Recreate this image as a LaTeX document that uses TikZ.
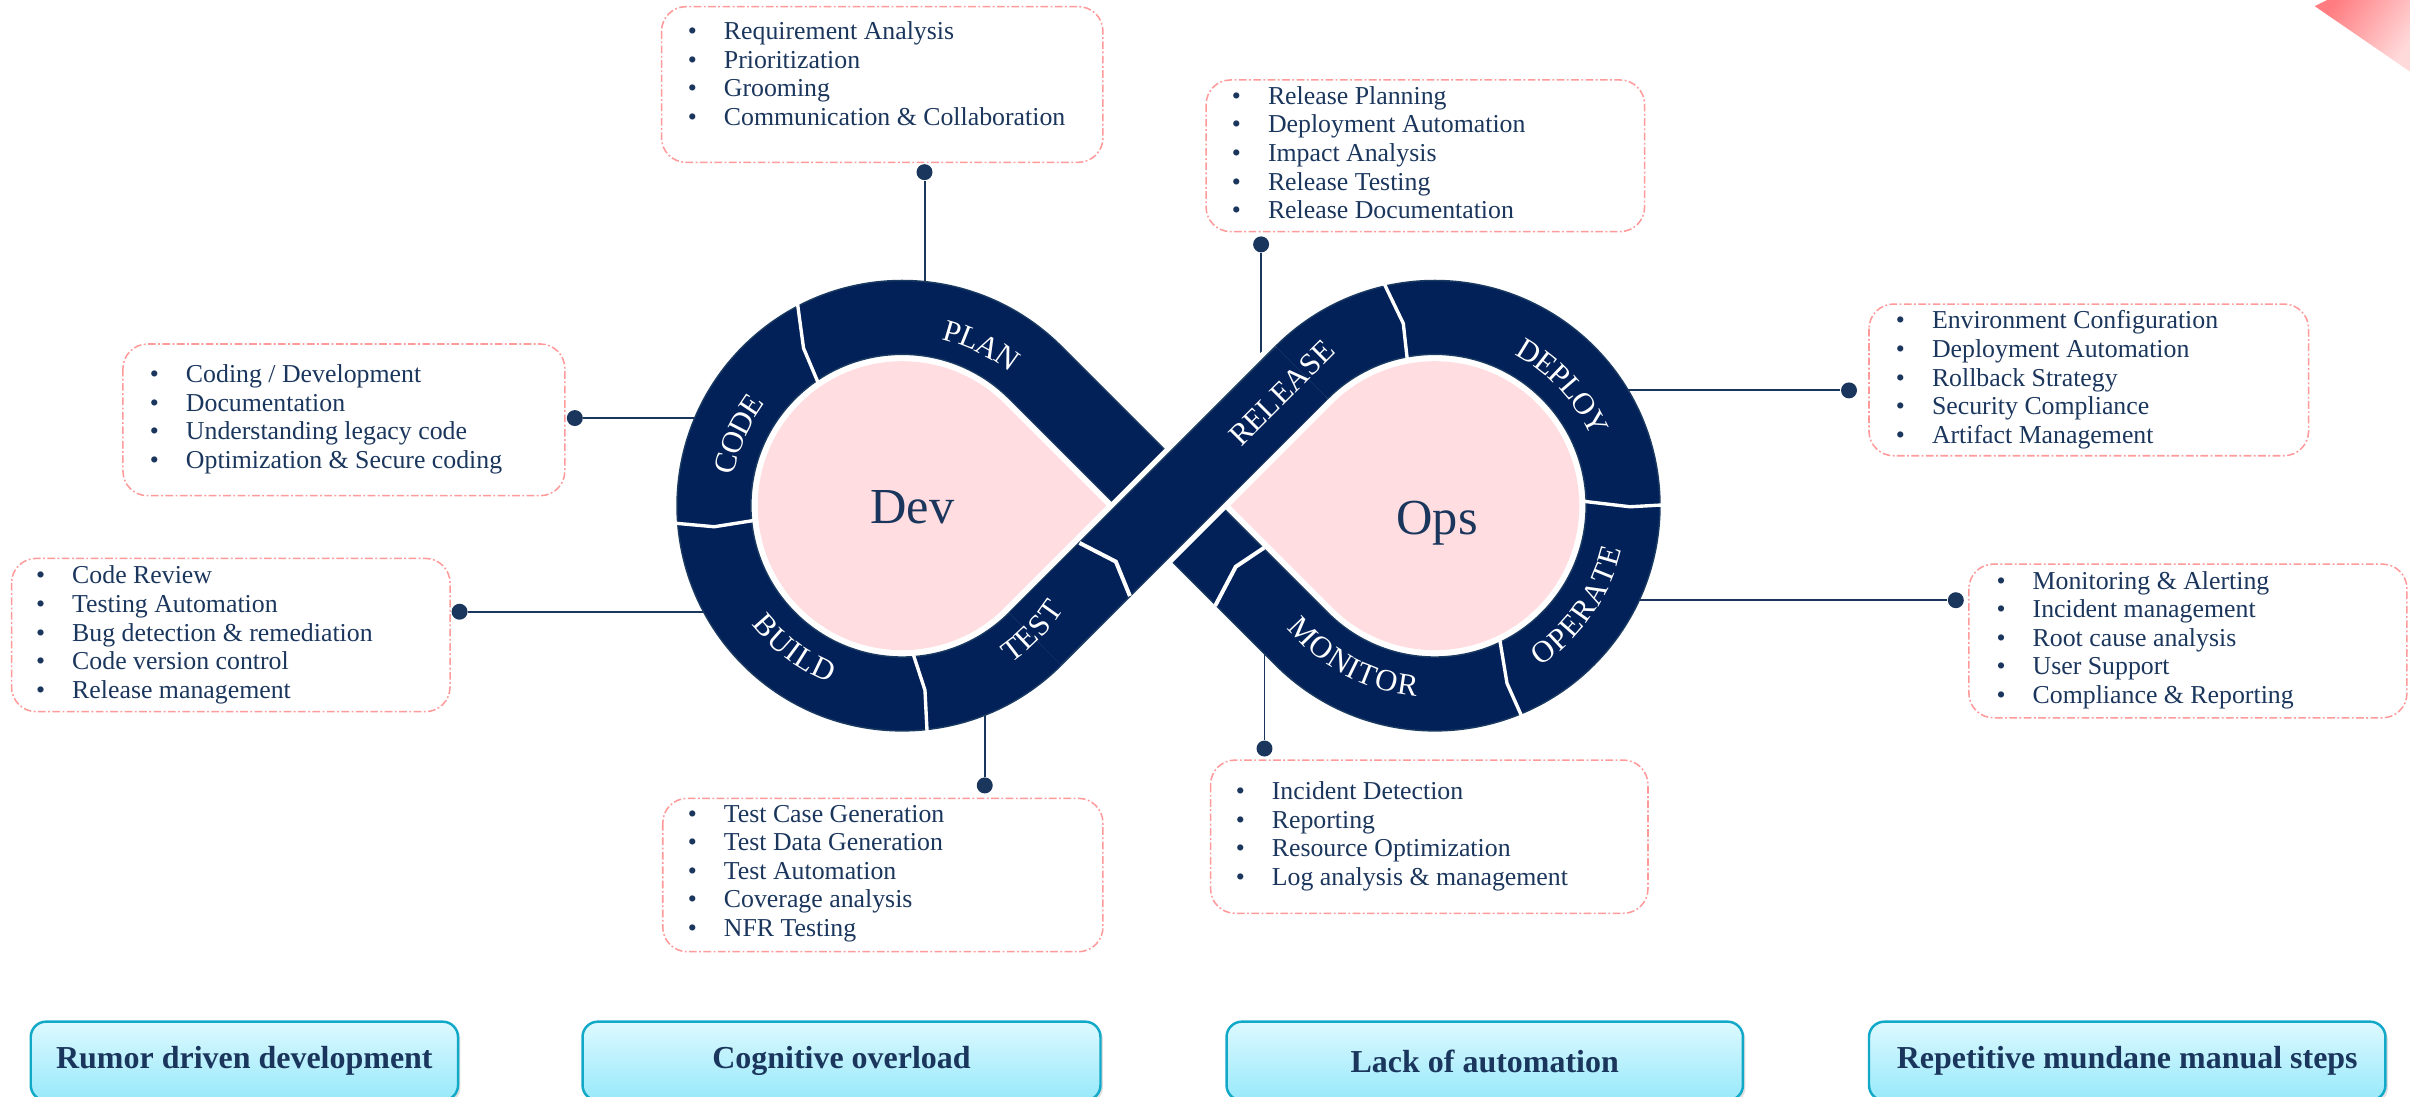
\documentclass[tikz,border=0pt]{standalone}
\usepackage{fontspec}
\setmainfont{Liberation Serif}
\usetikzlibrary{decorations.text,calc,shadows}
\definecolor{navy}{HTML}{022158}
\definecolor{navyline}{HTML}{1A3A62}
\definecolor{txt}{HTML}{1B365D}
\definecolor{pinkfill}{HTML}{FFDDE0}
\definecolor{dashpink}{HTML}{FF9A9A}
\definecolor{cyantop}{HTML}{DDF9FF}
\definecolor{cyanbot}{HTML}{97E9FA}
\definecolor{cyanline}{HTML}{12A9C9}
\definecolor{cornerA}{HTML}{FF7C80}
\definecolor{cornerB}{HTML}{FFDADB}
\newcommand{\bl}[1]{\makebox[11.75pt][l]{\textbullet}#1}
\newcommand{\bandfont}{\fontsize{10}{12}\selectfont\color{white}}
\tikzset{
  listbox/.style={draw=dashpink, dash pattern=on 2.5pt off 0.8pt on 0.6pt off 0.8pt, line width=0.5pt, rounded corners=8pt},
  listtext/.style={anchor=north west, inner sep=0pt, outer sep=0pt, align=left, text=txt, font=\fontsize{8.4}{9.3}\selectfont},
  conn/.style={draw=txt, line width=0.65pt},
  dotmark/.style={circle, fill=txt, inner sep=0pt, minimum size=5.2pt},
  sepline/.style={draw=white, line width=1.1pt, line join=miter, shorten <=-1.5pt, shorten >=-1.5pt},
  bandlbl/.style={decorate, decoration={text along path, text align=center, raise=-3.4pt, text={|\bandfont|#1}}},
  bottombox/.style={draw=cyanline, line width=0.8pt, top color=cyantop, bottom color=cyanbot, rounded corners=5pt,
    minimum height=25.65pt, text=txt, font=\fontsize{10.4}{12}\selectfont\bfseries,
    drop shadow={opacity=0.25, shadow xshift=0.8pt, shadow yshift=-0.8pt}},
  bigword/.style={anchor=base, text=txt, font=\fontsize{16.4}{18}\selectfont, inner sep=0pt}
}
\begin{document}
\begin{tikzpicture}[x=0.5pt,y=0.5pt]
\useasboundingbox (0,0) rectangle (1568,-713.7);
\clip (0,0) rectangle (1568,-713.7);

% corner decoration
\shade[top color=cornerA, bottom color=cornerB, shading angle=55] (1506,-4) -- (1514,0) -- (1568,0) -- (1568,-46.6) -- cycle;

% centres
\coordinate (C1) at (587,-329);
\coordinate (C2) at (933.5,-329);

% connector ends on the band and dots
\node[dotmark] (dplan) at (601.5,-112) {};
\node[dotmark] (drel) at (820.5,-159) {};
\node[dotmark] (dcode) at (374,-272) {};
\node[dotmark] (dbuild) at (299,-398) {};
\node[dotmark] (dtest) at (640.7,-511) {};
\node[dotmark] (dmon) at (822.7,-487) {};
\node[dotmark] (ddep) at (1203,-254) {};
\node[dotmark] (dop) at (1272.5,-390.5) {};
\coordinate (eplan) at (601.5,-186);
\coordinate (erel) at (820.5,-237);
\coordinate (ecode) at (455,-272);
\coordinate (ebuild) at (461,-398);
\coordinate (etest) at (640.7,-462);
\coordinate (emon) at (822.7,-422);
\coordinate (edep) at (1057,-254);
\coordinate (eop) at (1064,-390.5);
\draw[conn] (eplan) -- (dplan);
\draw[conn] (erel) -- (drel);
\draw[conn] (ecode) -- (dcode);
\draw[conn] (ebuild) -- (dbuild);
\draw[conn] (etest) -- (dtest);
\draw[conn] (emon) -- (dmon);
\draw[conn] (edep) -- (ddep);
\draw[conn] (eop) -- (dop);

% infinity band
\draw[navyline, line width=24.5pt, line join=round] ($(C1)+(45:122.5)$) arc[start angle=45, end angle=315, radius=122.5]
   -- ($(C2)+(135:122.5)$) arc[start angle=135, end angle=-135, radius=122.5] -- cycle;
\draw[navy, line width=23.5pt, line join=round] ($(C1)+(45:122.5)$) arc[start angle=45, end angle=315, radius=122.5]
   -- ($(C2)+(135:122.5)$) arc[start angle=135, end angle=-135, radius=122.5] -- cycle;
% over band (TEST -> RELEASE)
\draw[white, line width=28pt] ($(C1)+(-45:122.5)$) -- ($(C2)+(135:122.5)$);
\draw[navyline, line width=24.5pt] ($(C1)+(-45:122.5)$) -- ($(C2)+(135:122.5)$);
\draw[navy, line width=23.5pt] ($(C1)+(-45:122.2)$) -- ($(C2)+(135:122.2)$);

% separators
\draw[sepline] (519,-198.4) -- (522.8,-226.5) -- (532,-248.3);
\draw[sepline] (440.3,-340.5) -- (464.7,-342.7) -- (492.5,-338.3);
\draw[sepline] (594.7,-427.3) -- (601.8,-449) -- (603,-472.8);
\draw[sepline, line width=1.3pt] (705,-354.6) -- (726,-365.4) -- (734,-385);
\draw[sepline] (901.5,-186.5) -- (913,-210.4) -- (915.5,-233);
\draw[sepline] (1032.5,-326.4) -- (1060.5,-329.7) -- (1080.4,-328.6);
\draw[sepline] (976,-417.5) -- (980.5,-444.6) -- (988.7,-463);
\draw[sepline, line width=1.3pt] (820,-358) -- (804,-368.7) -- (792,-391.5);

% pink drops
\fill[pinkfill] ($(C1)+(45:94)$) arc[start angle=45, end angle=315, radius=94] -- ($(C1)+(132.9,0)$) -- cycle;
\fill[pinkfill] ($(C2)+(135:94)$) arc[start angle=135, end angle=-135, radius=94] -- ($(C2)+(-132.9,0)$) -- cycle;
\node[bigword] (dev) at (593.5,-340.5) {Dev};
\node[bigword] (ops) at (935,-348) {Ops};

% band labels
\path[bandlbl=PLAN] ($(C1)+(98.8:118)$) arc[start angle=98.8, end angle=28.8, radius=118];
\path[bandlbl=CODE] ($(C1)+(191.5:118)$) arc[start angle=191.5, end angle=121.5, radius=118];
\path[bandlbl=BUILD] ($(C1)+(198:118)$) arc[start angle=198, end angle=268, radius=118];
\path[bandlbl=TEST] ($(C1)+(281:118)$) arc[start angle=281, end angle=351, radius=118];
\path[bandlbl=RELEASE] (788.55,-300.7) -- (879.05,-210.2);
\path[bandlbl=DEPLOY] ($(C2)+(77.8:118)$) arc[start angle=77.8, end angle=7.8, radius=118];
\path[bandlbl=OPERATE] ($(C2)+(290:118)$) arc[start angle=290, end angle=360, radius=118];
\path[bandlbl=MONITOR] ($(C2)+(207:118)$) arc[start angle=207, end angle=277, radius=118];

% list boxes
\draw[listbox] (430.4,-4.3) rectangle (717.6,-105.6);
\draw[listbox] (784.7,-52) rectangle (1070,-150.7);
\draw[listbox] (80,-223.8) rectangle (367.5,-322.5);
\draw[listbox] (7.5,-363.3) rectangle (292.8,-463);
\draw[listbox] (1216,-197.8) rectangle (1502,-296.5);
\draw[listbox] (1281,-367) rectangle (1566,-467);
\draw[listbox] (431.2,-519.4) rectangle (717.6,-619.2);
\draw[listbox] (787.6,-494.5) rectangle (1072.2,-594.2);

\node[listtext] (tplan) at (447.5,-14.2) {\bl{Requirement Analysis}\\\bl{Prioritization}\\\bl{Grooming}\\\bl{Communication \& Collaboration}};
\node[listtext] (trel) at (801.5,-56.2) {\bl{Release Planning}\\\bl{Deployment Automation}\\\bl{Impact Analysis}\\\bl{Release Testing}\\\bl{Release Documentation}};
\node[listtext] (tcode) at (97.5,-237.2) {\bl{Coding / Development}\\\bl{Documentation}\\\bl{Understanding legacy code}\\\bl{Optimization \& Secure coding}};
\node[listtext] (tbuild) at (23.5,-368.2) {\bl{Code Review}\\\bl{Testing Automation}\\\bl{Bug detection \& remediation}\\\bl{Code version control}\\\bl{Release management}};
\node[listtext] (tdep) at (1233.5,-202.2) {\bl{Environment Configuration}\\\bl{Deployment Automation}\\\bl{Rollback Strategy}\\\bl{Security Compliance}\\\bl{Artifact Management}};
\node[listtext] (top) at (1299,-371.7) {\bl{Monitoring \& Alerting}\\\bl{Incident management}\\\bl{Root cause analysis}\\\bl{User Support}\\\bl{Compliance \& Reporting}};
\node[listtext] (ttest) at (447.5,-523.7) {\bl{Test Case Generation}\\\bl{Test Data Generation}\\\bl{Test Automation}\\\bl{Coverage analysis}\\\bl{NFR Testing}};
\node[listtext] (tmon) at (804,-508.6) {\bl{Incident Detection}\\\bl{Reporting}\\\bl{Resource Optimization}\\\bl{Log analysis \& management}};

% bottom boxes
\node[bottombox, minimum width=139pt] (b1) at (159,-690.35) {Rumor driven development};
\node[bottombox, minimum width=168.5pt] (b2) at (547.5,-690.35) {Cognitive overload};
\node[bottombox, minimum width=168pt] (b3) at (966,-690.35) {Lack of automation};
\node[bottombox, minimum width=168pt] (b4) at (1384,-690.35) {Repetitive mundane manual steps};
\end{tikzpicture}
\end{document}
